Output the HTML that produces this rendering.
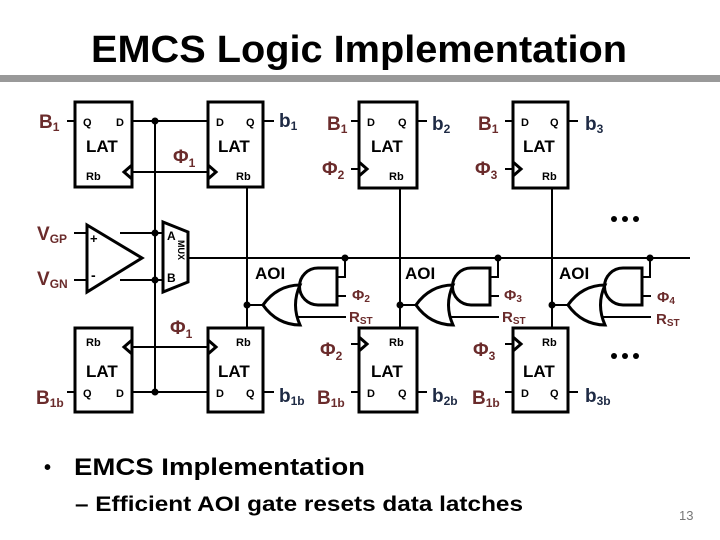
<!DOCTYPE html>
<html><head><meta charset="utf-8"><style>
html,body{margin:0;padding:0;background:#fff;}
svg{display:block;font-family:"Liberation Sans",Arial,sans-serif;font-weight:bold;}
</style></head><body>
<svg width="720" height="540" viewBox="0 0 720 540" xmlns="http://www.w3.org/2000/svg">
<text x="359" y="62" font-size="38" text-anchor="middle" textLength="536" lengthAdjust="spacingAndGlyphs">EMCS Logic Implementation</text>
<rect x="0" y="75" width="720" height="7" fill="#999"/>

<g stroke="#000" fill="none" stroke-width="3">
<rect x="75" y="102" width="57" height="85"/>
<rect x="208" y="102" width="55" height="85"/>
<rect x="359" y="102" width="58" height="86"/>
<rect x="513" y="102" width="55" height="86"/>
<rect x="75" y="328" width="57" height="84"/>
<rect x="208" y="328" width="55" height="84"/>
<rect x="359" y="328" width="58" height="84"/>
<rect x="513" y="328" width="55" height="84"/>
<polyline points="132,165 124,172 132,179"/>
<polyline points="208,165 216,172 208,179"/>
<polyline points="359,162 367,169 359,176"/>
<polyline points="513,162 521,169 513,176"/>
<polyline points="132,340 124,347 132,354"/>
<polyline points="208,340 216,347 208,354"/>
<polyline points="359,337 367,344 359,351"/>
<polyline points="513,337 521,344 513,351"/>
<polygon points="87,225 87,292 142,258"/>
<polygon points="163,222 188,232 188,282 163,292"/>
</g>

<g stroke="#000" fill="none" stroke-width="2">
<line x1="67" y1="121" x2="75" y2="121"/>
<line x1="132" y1="121" x2="208" y2="121"/>
<line x1="132" y1="172" x2="208" y2="172"/>
<line x1="155" y1="121" x2="155" y2="392"/>
<line x1="263" y1="121" x2="274" y2="121"/>
<line x1="351" y1="121" x2="359" y2="121"/>
<line x1="351" y1="169" x2="359" y2="169"/>
<line x1="417" y1="121" x2="427" y2="121"/>
<line x1="505" y1="121" x2="513" y2="121"/>
<line x1="505" y1="169" x2="513" y2="169"/>
<line x1="568" y1="121" x2="578" y2="121"/>
<line x1="67" y1="392" x2="75" y2="392"/>
<line x1="132" y1="392" x2="208" y2="392"/>
<line x1="132" y1="347" x2="208" y2="347"/>
<line x1="263" y1="392" x2="274" y2="392"/>
<line x1="351" y1="392" x2="359" y2="392"/>
<line x1="351" y1="344" x2="359" y2="344"/>
<line x1="417" y1="392" x2="427" y2="392"/>
<line x1="505" y1="392" x2="513" y2="392"/>
<line x1="505" y1="344" x2="513" y2="344"/>
<line x1="568" y1="392" x2="578" y2="392"/>
<line x1="74" y1="233" x2="87" y2="233"/>
<line x1="74" y1="280" x2="87" y2="280"/>
<line x1="120" y1="233" x2="163" y2="233"/>
<line x1="120" y1="280" x2="163" y2="280"/>
<line x1="188" y1="258" x2="690" y2="258"/>
<line x1="247" y1="187" x2="247" y2="328"/>
<line x1="400" y1="188" x2="400" y2="328"/>
<line x1="552" y1="188" x2="552" y2="328"/>
</g>
<g fill="#000">
<circle cx="155" cy="121" r="3.5"/><circle cx="155" cy="233" r="3.5"/>
<circle cx="155" cy="280" r="3.5"/><circle cx="155" cy="392" r="3.5"/>
</g>

<g id="aoi">
<g stroke="#000" fill="none" stroke-width="3">
<path d="M337,268 H318 A18.5,18.5 0 0 0 318,305 H337 Z" fill="#fff"/>
<path d="M300,285 C285,285 272,292 263,305 C272,318 285,325 300,325 Q291,305 300,285 Z" fill="#fff"/>
</g>
<g stroke="#000" fill="none" stroke-width="2">
<polyline points="345,258 345,277 337,277"/>
<line x1="337" y1="296" x2="346" y2="296"/>
<line x1="297" y1="317" x2="346" y2="317"/>
<line x1="247" y1="305" x2="263" y2="305"/>
</g>
<circle cx="345" cy="258" r="3.5"/>
<circle cx="247" cy="305" r="3.5"/>
</g>
<use href="#aoi" transform="translate(153,0)"/>
<use href="#aoi" transform="translate(305,0)"/>

<g font-size="11" fill="#000">
<text x="83" y="126">Q</text><text x="116" y="126">D</text>
<text x="86" y="180">Rb</text>
<text x="216" y="126">D</text><text x="246" y="126">Q</text><text x="236" y="180">Rb</text>
<text x="367" y="126">D</text><text x="398" y="126">Q</text><text x="389" y="180">Rb</text>
<text x="521" y="126">D</text><text x="550" y="126">Q</text><text x="542" y="180">Rb</text>
<text x="86" y="346">Rb</text><text x="83" y="397">Q</text><text x="116" y="397">D</text>
<text x="236" y="346">Rb</text><text x="216" y="397">D</text><text x="246" y="397">Q</text>
<text x="389" y="346">Rb</text><text x="367" y="397">D</text><text x="398" y="397">Q</text>
<text x="542" y="346">Rb</text><text x="521" y="397">D</text><text x="550" y="397">Q</text>
<text x="167" y="240" font-size="12">A</text><text x="167" y="282" font-size="12">B</text>
<text x="90" y="243" font-size="13">+</text><text x="91" y="280" font-size="14">-</text>
<text transform="translate(178,240) rotate(90)" font-size="9">MUX</text>
</g>
<g font-size="17" fill="#000">
<text x="86" y="152">LAT</text><text x="218" y="152">LAT</text>
<text x="371" y="152">LAT</text><text x="523" y="152">LAT</text>
<text x="86" y="377">LAT</text><text x="218" y="377">LAT</text>
<text x="371" y="377">LAT</text><text x="523" y="377">LAT</text>
<text x="255" y="279">AOI</text><text x="405" y="279">AOI</text><text x="559" y="279">AOI</text>
</g>

<g fill="#6a2b2b" font-size="19">
<text x="39" y="128">B<tspan font-size="12" dy="3">1</tspan></text>
<text x="327" y="130">B<tspan font-size="12" dy="3">1</tspan></text>
<text x="478" y="130">B<tspan font-size="12" dy="3">1</tspan></text>
<text x="36" y="404">B<tspan font-size="12" dy="3">1b</tspan></text>
<text x="317" y="404">B<tspan font-size="12" dy="3">1b</tspan></text>
<text x="472" y="404">B<tspan font-size="12" dy="3">1b</tspan></text>
<text x="37" y="240">V<tspan font-size="12" dy="3">GP</tspan></text>
<text x="37" y="285">V<tspan font-size="12" dy="3">GN</tspan></text>
<text x="173" y="163">Φ<tspan font-size="12" dy="4">1</tspan></text>
<text x="170" y="334">Φ<tspan font-size="12" dy="4">1</tspan></text>
<text x="322" y="175">Φ<tspan font-size="12" dy="4">2</tspan></text>
<text x="475" y="175">Φ<tspan font-size="12" dy="4">3</tspan></text>
<text x="320" y="356">Φ<tspan font-size="12" dy="4">2</tspan></text>
<text x="473" y="356">Φ<tspan font-size="12" dy="4">3</tspan></text>
</g>
<g fill="#6a2b2b" font-size="15">
<text x="352" y="300">Φ<tspan font-size="10" dy="2">2</tspan></text>
<text x="349" y="322">R<tspan font-size="10" dy="2">ST</tspan></text>
<text x="504" y="300">Φ<tspan font-size="10" dy="2">3</tspan></text>
<text x="502" y="322">R<tspan font-size="10" dy="2">ST</tspan></text>
<text x="657" y="302">Φ<tspan font-size="10" dy="2">4</tspan></text>
<text x="656" y="324">R<tspan font-size="10" dy="2">ST</tspan></text>
</g>
<g fill="#1e2a44" font-size="19">
<text x="279" y="127">b<tspan font-size="12" dy="3">1</tspan></text>
<text x="432" y="130">b<tspan font-size="12" dy="3">2</tspan></text>
<text x="585" y="130">b<tspan font-size="12" dy="3">3</tspan></text>
<text x="279" y="402">b<tspan font-size="12" dy="3">1b</tspan></text>
<text x="432" y="402">b<tspan font-size="12" dy="3">2b</tspan></text>
<text x="585" y="402">b<tspan font-size="12" dy="3">3b</tspan></text>
</g>
<g fill="#000">
<circle cx="614" cy="219" r="3"/><circle cx="625" cy="219" r="3"/><circle cx="636" cy="219" r="3"/>
<circle cx="614" cy="356" r="3"/><circle cx="625" cy="356" r="3"/><circle cx="636" cy="356" r="3"/>
</g>

<g fill="#000">
<text x="44" y="474" font-size="20">•</text>
<text x="74" y="475" font-size="24" textLength="291" lengthAdjust="spacingAndGlyphs">EMCS Implementation</text>
<text x="75" y="511" font-size="21" textLength="448" lengthAdjust="spacingAndGlyphs">– Efficient AOI gate resets data latches</text>
<text x="679" y="520" font-size="13" fill="#777" font-weight="normal">13</text>
</g>
</svg>
</body></html>
